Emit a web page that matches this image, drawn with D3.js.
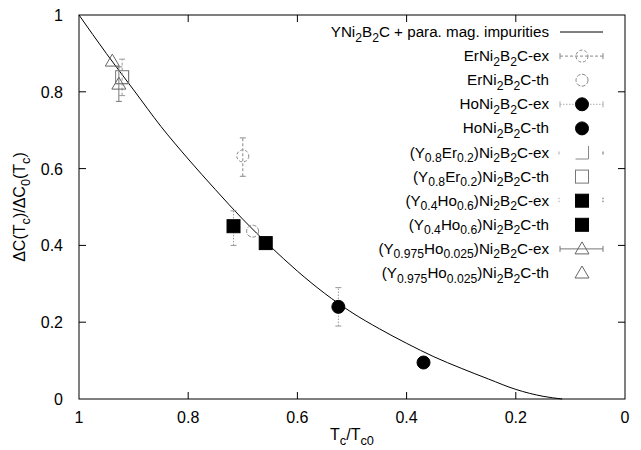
<!DOCTYPE html>
<html>
<head>
<meta charset="utf-8">
<script src="https://cdn.jsdelivr.net/npm/d3@7"></script>
<style>
  body { margin: 0; background: #fff; }
  svg { font-family: "Liberation Sans", Arial, sans-serif; }
</style>
</head>
<body>
<div id="chart"></div>
<script>
// theory curve
var curveX = [1.0, 0.95, 0.9, 0.85, 0.8, 0.75, 0.7, 0.65, 0.6, 0.55, 0.5, 0.45, 0.4, 0.35, 0.3, 0.25, 0.2, 0.15, 0.115]
var curveY = [1.0, 0.90, 0.805, 0.71, 0.625, 0.545, 0.468, 0.398, 0.333, 0.275, 0.225, 0.183, 0.145, 0.11, 0.08, 0.052, 0.025, 0.007, 0.0]

// ErNi2B2C
var erExX = [0.70], erExY = [0.633], erExLo = [0.58], erExHi = [0.68]
var erThX = [0.682], erThY = [0.437]
// HoNi2B2C
var hoExX = [0.525], hoExY = [0.24], hoExLo = [0.19], hoExHi = [0.29]
var hoThX = [0.369], hoThY = [0.095]
// (Y0.8Er0.2)Ni2B2C
var yerExX = [0.921], yerExY = [0.838], yerExLo = [0.79], yerExHi = [0.885]
var yerThX = [0.921], yerThY = [0.838]
// (Y0.4Ho0.6)Ni2B2C
var yhoExX = [0.717], yhoExY = [0.45], yhoExLo = [0.40], yhoExHi = [0.49]
var yhoThX = [0.658], yhoThY = [0.406]
// (Y0.975Ho0.025)Ni2B2C
var ytrExX = [0.927], ytrExY = [0.82], ytrExLo = [0.775], ytrExHi = [0.865]
var ytrThX = [0.939], ytrThY = [0.88]

var xTicks = [1, 0.8, 0.6, 0.4, 0.2, 0]
var yTicks = [0, 0.2, 0.4, 0.6, 0.8, 1]

var legendLabels = [
  "YNi_{2}B_{2}C + para. mag. impurities",
  "ErNi_{2}B_{2}C-ex",
  "ErNi_{2}B_{2}C-th",
  "HoNi_{2}B_{2}C-ex",
  "HoNi_{2}B_{2}C-th",
  "(Y_{0.8}Er_{0.2})Ni_{2}B_{2}C-ex",
  "(Y_{0.8}Er_{0.2})Ni_{2}B_{2}C-th",
  "(Y_{0.4}Ho_{0.6})Ni_{2}B_{2}C-ex",
  "(Y_{0.4}Ho_{0.6})Ni_{2}B_{2}C-th",
  "(Y_{0.975}Ho_{0.025})Ni_{2}B_{2}C-ex",
  "(Y_{0.975}Ho_{0.025})Ni_{2}B_{2}C-th"
]

var width = 641
var height = 450
// note: "top" is taken by window.top, so use other names
var pLeft = 79, pRight = 625, pTop = 15, pBottom = 399
var fs = 16
var legFs = 15.2

var svg = d3.select("#chart")
  .append("svg")
    .attr("width", width)
    .attr("height", height)

var x = d3.scaleLinear().domain([1, 0]).range([pLeft, pRight])
var y = d3.scaleLinear().domain([0, 1]).range([pBottom, pTop])

var tickLen = 7

// frame
svg.append("rect")
  .attr("x", pLeft).attr("y", pTop)
  .attr("width", pRight - pLeft).attr("height", pBottom - pTop)
  .attr("fill", "none").attr("stroke", "#000").attr("stroke-width", 1)

// ticks, drawn inwards on all four sides
xTicks.forEach(function(t) {
  if (t == 1 || t == 0) return
  svg.append("line").attr("x1", x(t)).attr("x2", x(t)).attr("y1", pBottom).attr("y2", pBottom - tickLen).attr("stroke", "#000")
  svg.append("line").attr("x1", x(t)).attr("x2", x(t)).attr("y1", pTop).attr("y2", pTop + tickLen).attr("stroke", "#000")
})
yTicks.forEach(function(t) {
  if (t == 1 || t == 0) return
  svg.append("line").attr("x1", pLeft).attr("x2", pLeft + tickLen).attr("y1", y(t)).attr("y2", y(t)).attr("stroke", "#000")
  svg.append("line").attr("x1", pRight).attr("x2", pRight - tickLen).attr("y1", y(t)).attr("y2", y(t)).attr("stroke", "#000")
})

svg.selectAll(".xlab")
  .data(xTicks)
  .enter()
  .append("text")
    .attr("x", function(d) { return x(d) })
    .attr("y", pBottom + 24)
    .attr("text-anchor", "middle")
    .style("font-size", fs + "px")
    .text(function(d) { return d })

svg.selectAll(".ylab")
  .data(yTicks)
  .enter()
  .append("text")
    .attr("x", pLeft - 16)
    .attr("y", function(d) { return y(d) + 6 })
    .attr("text-anchor", "end")
    .style("font-size", fs + "px")
    .text(function(d) { return d })

// write "a_{b}" as text with subscripts
function richText(sel, str, size) {
  var parts = str.split(/(_\{[^}]*\})/)
  var sub = false
  parts.forEach(function(p) {
    if (p === "") return
    if (p.charAt(0) == "_") {
      sel.append("tspan").attr("dy", size * 0.3).style("font-size", (size * 0.8) + "px").text(p.slice(2, -1))
      sub = true
    } else {
      sel.append("tspan").attr("dy", sub ? -size * 0.3 : 0).text(p)
      sub = false
    }
  })
}

// axis titles
var xt = svg.append("text").attr("x", (pLeft + pRight) / 2).attr("y", 440)
  .attr("text-anchor", "middle").style("font-size", fs + "px")
richText(xt, "T_{c}/T_{c0}", fs)

var yt = svg.append("text")
  .attr("transform", "translate(25," + ((pTop + pBottom) / 2) + ") rotate(-90)")
  .attr("text-anchor", "middle").style("font-size", fs + "px")
richText(yt, "ΔC(T_{c})/ΔC_{0}(T_{c})", fs)

// curve
var line = d3.line()
  .x(function(d) { return x(d[0]) })
  .y(function(d) { return y(d[1]) })
  .curve(d3.curveMonotoneX)

svg.append("path")
  .datum(d3.zip(curveX, curveY))
  .attr("d", line)
  .attr("fill", "none")
  .attr("stroke", "#000")
  .attr("stroke-width", 1)

// marker helpers
function circleMark(g, cx, cy, filled, dash) {
  g.append("circle").attr("cx", cx).attr("cy", cy).attr("r", filled ? 6.5 : 6)
    .attr("fill", filled ? "#000" : "none")
    .attr("stroke", filled ? "#000" : "#888")
    .attr("stroke-dasharray", dash || null)
}
function squareMark(g, cx, cy, filled, stroke) {
  g.append("rect").attr("x", cx - 6.5).attr("y", cy - 6.5).attr("width", 13).attr("height", 13)
    .attr("fill", filled ? "#000" : "none")
    .attr("stroke", filled ? "#000" : (stroke || "#777"))
}
function ellMark(g, cx, cy) {
  g.append("path")
    .attr("d", "M" + (cx - 6.5) + "," + (cy + 6.5) + "H" + (cx + 6.5) + "V" + (cy - 6.5))
    .attr("fill", "none").attr("stroke", "#888")
}
function triMark(g, cx, cy) {
  g.append("path")
    .attr("d", "M" + cx + "," + (cy - 7) + "L" + (cx + 7) + "," + (cy + 5) + "L" + (cx - 7) + "," + (cy + 5) + "Z")
    .attr("fill", "none").attr("stroke", "#666")
}
function errBar(g, cx, lo, hi, stroke, dash) {
  g.append("line").attr("x1", cx).attr("x2", cx).attr("y1", lo).attr("y2", hi)
    .attr("stroke", stroke).attr("stroke-dasharray", dash || null)
  ;[lo, hi].forEach(function(v) {
    g.append("line").attr("x1", cx - 3).attr("x2", cx + 3).attr("y1", v).attr("y2", v)
      .attr("stroke", stroke)
  })
}

var pts = svg.append("g")

// error bars first
erExX.forEach(function(d, i) { errBar(pts, x(d), y(erExLo[i]), y(erExHi[i]), "#888", "3,2") })
hoExX.forEach(function(d, i) { errBar(pts, x(d), y(hoExLo[i]), y(hoExHi[i]), "#999", "1.5,1.5") })
yerExX.forEach(function(d, i) { errBar(pts, x(d), y(yerExLo[i]), y(yerExHi[i]), "#999", "3,2") })
yhoExX.forEach(function(d, i) { errBar(pts, x(d), y(yhoExLo[i]), y(yhoExHi[i]), "#999", "1.5,1.5") })
ytrExX.forEach(function(d, i) { errBar(pts, x(d), y(ytrExLo[i]), y(ytrExHi[i]), "#777") })

erExX.forEach(function(d, i) { circleMark(pts, x(d), y(erExY[i]), false, "3,2") })
erThX.forEach(function(d, i) { circleMark(pts, x(d), y(erThY[i]), false, "4,1.5") })
hoExX.forEach(function(d, i) { circleMark(pts, x(d), y(hoExY[i]), true) })
hoThX.forEach(function(d, i) { circleMark(pts, x(d), y(hoThY[i]), true) })
yerExX.forEach(function(d, i) { ellMark(pts, x(d), y(yerExY[i])) })
yerThX.forEach(function(d, i) { squareMark(pts, x(d), y(yerThY[i]), false) })
yhoExX.forEach(function(d, i) { squareMark(pts, x(d), y(yhoExY[i]), true) })
yhoThX.forEach(function(d, i) { squareMark(pts, x(d), y(yhoThY[i]), true) })
ytrExX.forEach(function(d, i) { triMark(pts, x(d), y(ytrExY[i])) })
ytrThX.forEach(function(d, i) { triMark(pts, x(d), y(ytrThY[i])) })

// legend
var legX = 549, sx1 = 560, sx2 = 603, sxc = 582
var legY0 = 32, legDy = 24.1
var leg = svg.append("g")
function ly(i) { return legY0 + i * legDy }

legendLabels.forEach(function(lab, i) {
  var t = leg.append("text").attr("x", legX).attr("y", ly(i) + 5)
    .attr("text-anchor", "end").style("font-size", legFs + "px")
  richText(t, lab, legFs)
})

function legLine(yy, stroke, dash) {
  leg.append("line").attr("x1", sx1).attr("x2", sx2).attr("y1", yy).attr("y2", yy)
    .attr("stroke", stroke).attr("stroke-dasharray", dash || null)
  ;[sx1, sx2].forEach(function(v) {
    leg.append("line").attr("x1", v).attr("x2", v).attr("y1", yy - 3).attr("y2", yy + 3).attr("stroke", stroke)
  })
}

leg.append("line").attr("x1", sx1).attr("x2", sx2).attr("y1", ly(0)).attr("y2", ly(0)).attr("stroke", "#000")
legLine(ly(1), "#888", "3,2")
circleMark(leg, sxc, ly(1), false, "3,2")
circleMark(leg, sxc, ly(2), false, "4,1.5")
legLine(ly(3), "#aaa", "1.5,1.5")
circleMark(leg, sxc, ly(3), true)
circleMark(leg, sxc, ly(4), true)
leg.append("line").attr("x1", sx1 - 1).attr("x2", sx1 - 1).attr("y1", ly(5) - 1).attr("y2", ly(5) + 2).attr("stroke", "#aaa")
leg.append("line").attr("x1", sx2).attr("x2", sx2).attr("y1", ly(5) - 1).attr("y2", ly(5) + 2).attr("stroke", "#666")
ellMark(leg, sxc, ly(5))
squareMark(leg, sxc, ly(6), false)
leg.append("line").attr("x1", sx1 - 1).attr("x2", sx1 - 1).attr("y1", ly(7) - 3).attr("y2", ly(7) + 3).attr("stroke", "#aaa").attr("stroke-dasharray", "1.5,1.5")
leg.append("line").attr("x1", sx2).attr("x2", sx2).attr("y1", ly(7) - 3).attr("y2", ly(7) + 3).attr("stroke", "#555").attr("stroke-dasharray", "1.5,1.5")
squareMark(leg, sxc, ly(7), true)
squareMark(leg, sxc, ly(8), true)
legLine(ly(9), "#777")
triMark(leg, sxc, ly(9))
triMark(leg, sxc, ly(10))
</script>
</body>
</html>
